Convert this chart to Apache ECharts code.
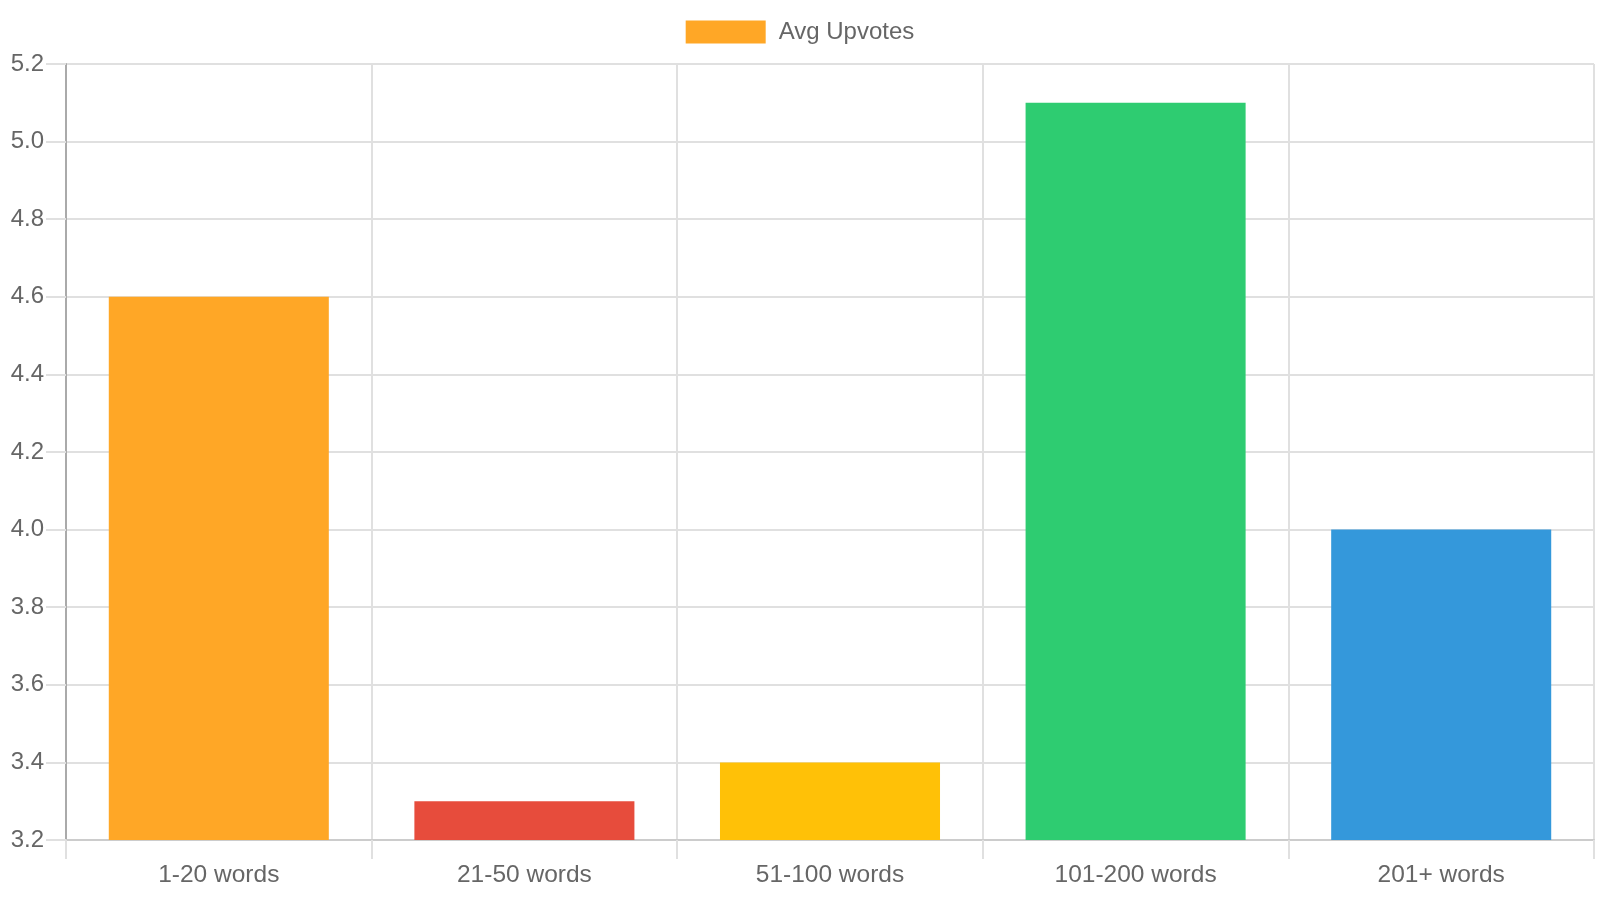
<!DOCTYPE html>
<html>
<head>
<meta charset="utf-8">
<script src="https://cdn.jsdelivr.net/npm/echarts@6/dist/echarts.min.js"></script>
<style>
html,body{margin:0;padding:0;background:#fff;}
#chart{width:1600px;height:900px;}
</style>
</head>
<body>
<div id="chart"></div>
<script>
const categories = ['1-20 words', '21-50 words', '51-100 words', '101-200 words', '201+ words'];
const avgUpvotes = [4.6, 3.3, 3.4, 5.1, 4.0];
const barColors = ['#ffa726', '#e74c3c', '#ffc107', '#2ecc71', '#3498db'];
const seriesName = 'Avg Upvotes';

const chart = echarts.init(document.getElementById('chart'), null, {renderer: 'canvas'});
const font = 'Liberation Sans, Arial, sans-serif';
chart.setOption({
  animation: false,
  backgroundColor: '#fff',
  legend: {
    top: 15,
    left: 'center',
    itemWidth: 80,
    itemHeight: 23,
    icon: 'rect',
    textStyle: {color: '#666', fontSize: 24, fontFamily: font, padding: [0, 0, 0, 8]},
    data: [seriesName]
  },
  grid: {left: 66, right: 6, top: 64, bottom: 60, containLabel: false},
  xAxis: {
    type: 'category',
    data: categories,
    axisLine: {show: true, lineStyle: {color: '#cccccc', width: 2}},
    axisTick: {show: true, length: 19, lineStyle: {color: '#e0e0e0', width: 2}},
    splitLine: {show: true, lineStyle: {color: '#e0e0e0', width: 2}},
    axisLabel: {color: '#666', fontSize: 24.5, fontFamily: font, margin: 23}
  },
  yAxis: {
    type: 'value',
    min: 3.2,
    max: 5.2,
    interval: 0.2,
    axisLine: {show: true, lineStyle: {color: '#aaaaaa', width: 2}},
    axisTick: {show: true, length: 20, lineStyle: {color: '#e0e0e0', width: 2}},
    splitLine: {show: true, lineStyle: {color: '#e0e0e0', width: 2}},
    axisLabel: {color: '#666', fontSize: 24, fontFamily: font, margin: 22,
      formatter: v => v.toFixed(1)}
  },
  series: [{
    name: seriesName,
    type: 'bar',
    barCategoryGap: '28%',
    itemStyle: {color: barColors[0]},
    data: avgUpvotes.map((v, i) => ({value: v, itemStyle: {color: barColors[i]}}))
  }]
});
</script>
</body>
</html>
